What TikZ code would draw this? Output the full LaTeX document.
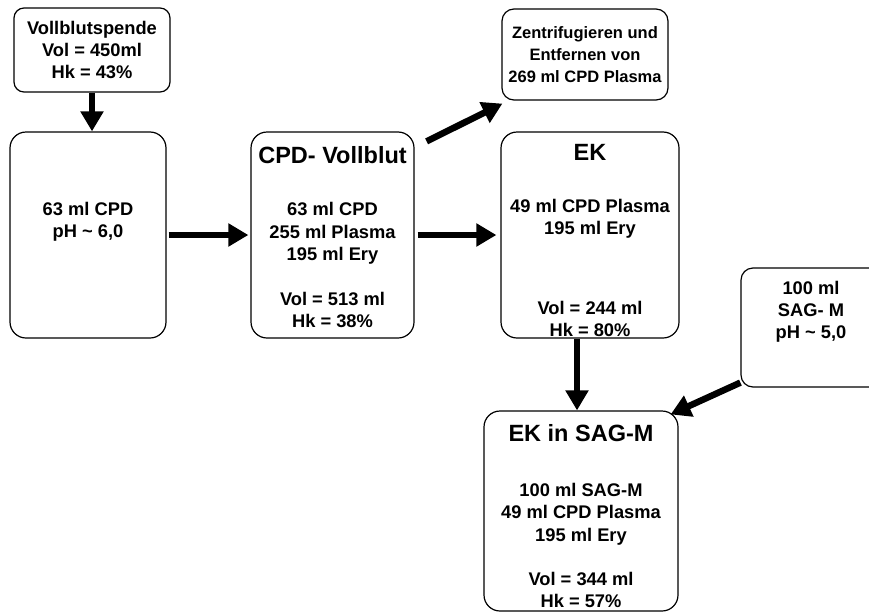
\documentclass[tikz,border=0pt]{standalone}
\usepackage{fontspec}
\setmainfont{Liberation Sans}
\usetikzlibrary{arrows.meta}
\newcommand{\titel}{\fontsize{23.5}{28}\selectfont}
\begin{document}
\begin{tikzpicture}[x=1pt, y=-1pt, font=\bfseries\fontsize{18.3}{22.3}\selectfont, line join=round,
	box/.style={draw, line width=1.2pt, rounded corners=16pt, align=center, inner sep=0pt},
	pfeil/.style={line width=6.5pt, -{Triangle[length=20pt,width=22pt]}}]
	\useasboundingbox (0,0) rectangle (869,613);
	\node[box, minimum width=156pt, minimum height=84pt, rounded corners=10pt] (spende) at (92,50) {Vollblutspende\\Vol = 450ml\\Hk = 43\%};
	\node[box, minimum width=156pt, minimum height=206pt, text depth=30pt] (cpd) at (88,235) {63 ml CPD\\pH \textasciitilde{} 6,0};
	\node[box, minimum width=163pt, minimum height=206pt] (vollblut) at (332.5,235) {\mbox{}\\[-1.1pt]{\titel CPD- Vollblut}\\[30pt]63 ml CPD\\255 ml Plasma\\195 ml Ery\\[22.3pt]Vol = 513 ml\\Hk = 38\%};
	\node[box, minimum width=166pt, minimum height=91pt, rounded corners=12pt,
		font=\bfseries\fontsize{16.5}{22.3}\selectfont] (zentri) at (585,54.5) {Zentrifugieren und\\Entfernen von\\269 ml CPD Plasma};
	\node[box, minimum width=178pt, minimum height=206pt] (ek) at (590,235) {\mbox{}\\[4.5pt]{\titel EK}\\[30pt]49 ml CPD Plasma\\195 ml Ery\\[57pt]Vol = 244 ml\\Hk = 80\%};
	\node[box, minimum width=140pt, minimum height=119pt, rounded corners=12pt, text depth=35pt] (sagm) at (811,327.5) {100 ml\\SAG- M\\pH \textasciitilde{} 5,0};
	\node[box, minimum width=194pt, minimum height=200pt] (eksag) at (581,511) {\mbox{}\\[4.9pt]{\titel EK in SAG-M}\\[33pt]100 ml SAG-M\\49 ml CPD Plasma\\195 ml Ery\\[22.3pt]Vol = 344 ml\\Hk = 57\%};
	% Pfeile
	\draw[pfeil] (spende.south) -- (spende.south |- cpd.north);
	\draw[pfeil, shorten <=2pt, shorten >=2pt] (cpd.east) -- (vollblut.west);
	\draw[pfeil, shorten <=3pt, shorten >=4pt] (vollblut.east) -- (ek.west);
	\draw[pfeil] ([xshift=12pt,yshift=-10pt]vollblut.north east) -- ([xshift=1pt,yshift=-3pt]zentri.south west);
	\draw[pfeil] ([xshift=-4pt]eksag.north |- ek.south) -- ([xshift=-4pt]eksag.north);
	\draw[pfeil] ([yshift=5pt]sagm.south west) -- ([xshift=-8pt,yshift=-4pt]eksag.north east);
\end{tikzpicture}
\end{document}
